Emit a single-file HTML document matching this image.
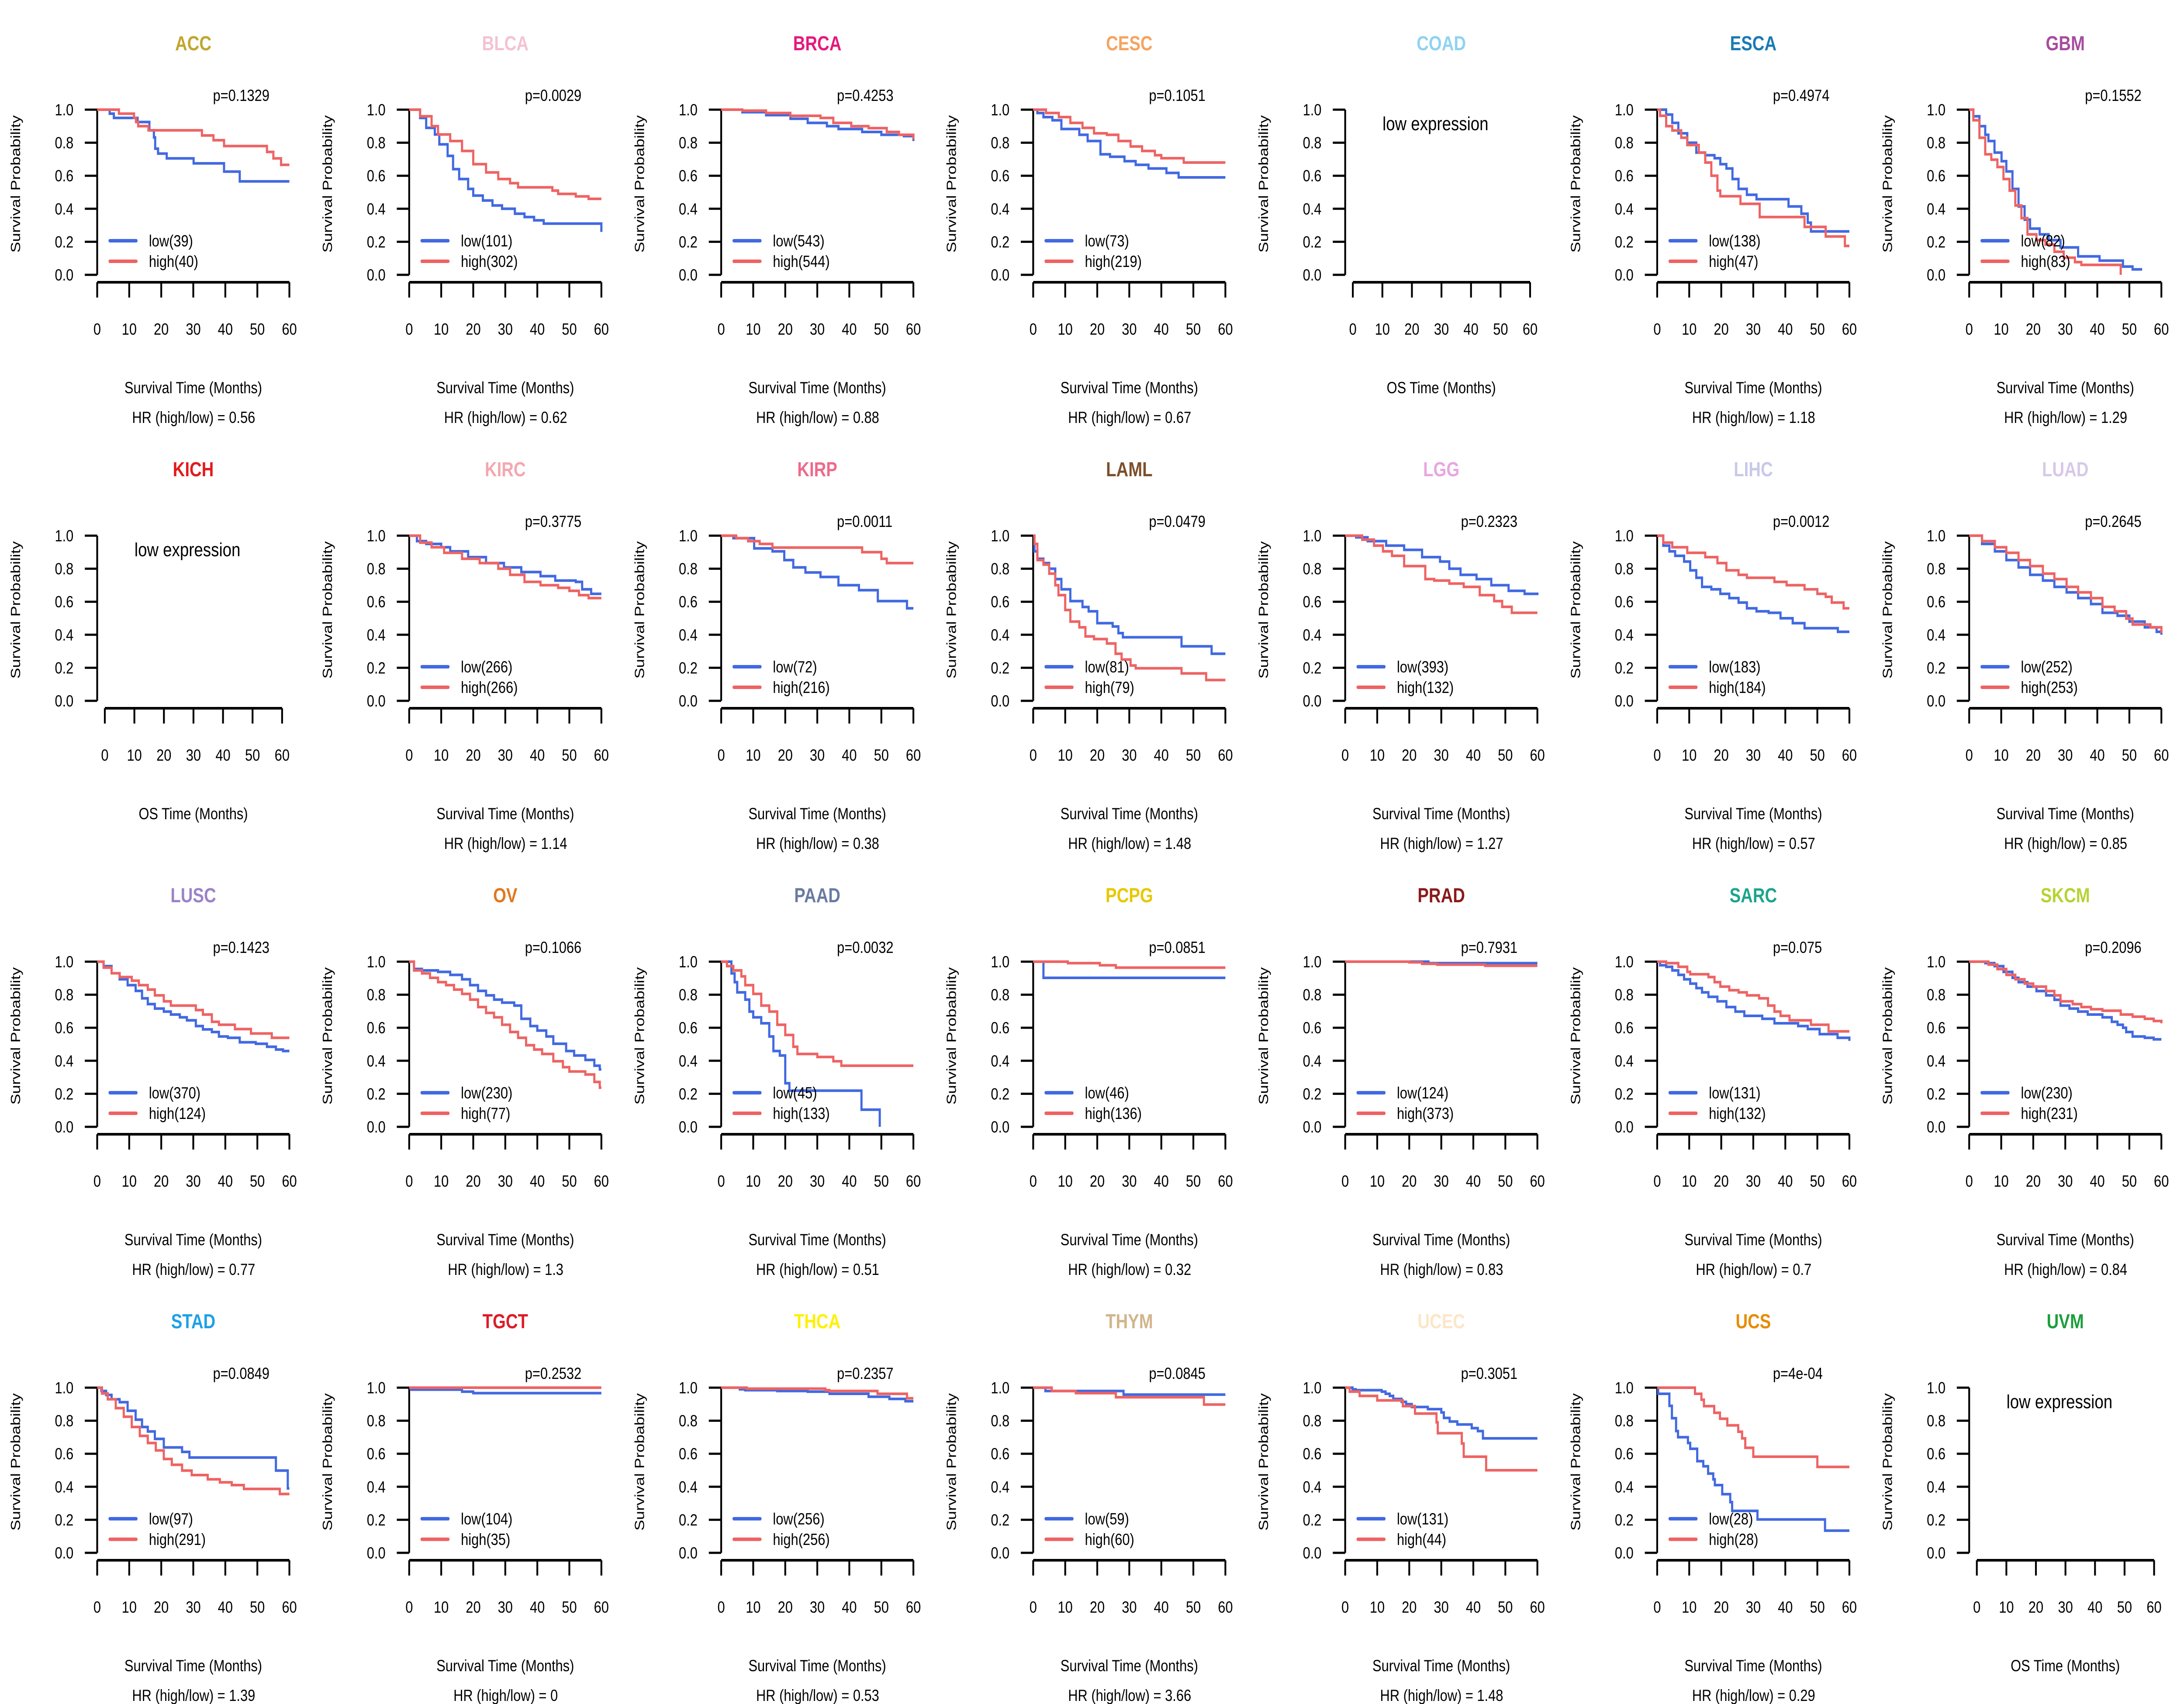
<!DOCTYPE html>
<html><head><meta charset="utf-8"><style>
html,body{margin:0;padding:0;background:#fff;overflow:hidden;width:100vw;height:100vh;}
svg{display:block;font-family:"Liberation Sans",Arial,sans-serif;width:100vw;height:100vh;}
</style></head><body>
<svg id="chart" xmlns="http://www.w3.org/2000/svg" viewBox="0 0 6000 3900" preserveAspectRatio="none"></svg>
<script>
const cancerNames=["ACC","BLCA","BRCA","CESC","COAD","ESCA","GBM","KICH","KIRC","KIRP","LAML","LGG","LIHC","LUAD","LUSC","OV","PAAD","PCPG","PRAD","SARC","SKCM","STAD","TGCT","THCA","THYM","UCEC","UCS","UVM"];
const titleColors=["#C0A62E","#F4C2D4","#E5197D","#F4A460","#8FD3F0","#1A7AB5","#A64D9E","#E31A1C","#F4A7B0","#EE6A8A","#7B4F2C","#E8A6E0","#C8C8E8","#D8C8E8","#9B82C8","#E0781E","#6A7BA2","#E8C800","#8B1A1A","#1CA58C","#B5D334","#1EA0E6","#DC1C28","#FFF000","#D2B48C","#FCE6C8","#E88C00","#1E9E3C"];
const pValues=["0.1329","0.0029","0.4253","0.1051",null,"0.4974","0.1552",null,"0.3775","0.0011","0.0479","0.2323","0.0012","0.2645","0.1423","0.1066","0.0032","0.0851","0.7931","0.075","0.2096","0.0849","0.2532","0.2357","0.0845","0.3051","4e-04",null];
const hrValues=["0.56","0.62","0.88","0.67",null,"1.18","1.29",null,"1.14","0.38","1.48","1.27","0.57","0.85","0.77","1.3","0.51","0.32","0.83","0.7","0.84","1.39","0","0.53","3.66","1.48","0.29",null];
const lowN=[39,101,543,73,null,138,82,null,266,72,81,393,183,252,370,230,45,46,124,131,230,97,104,256,59,131,28,null];
const highN=[40,302,544,219,null,47,83,null,266,216,79,132,184,253,124,77,133,136,373,132,231,291,35,256,60,44,28,null];
const xTicks=[0,10,20,30,40,50,60];
const yTicks=[0,0.2,0.4,0.6,0.8,1.0];
const lowCurves=[
[[3.9,0.976],[5.2,0.95],[12.6,0.925],[16.3,0.875],[17.7,0.832],[18.1,0.764],[19,0.734],[21.7,0.705],[30.1,0.675],[39.6,0.625],[44.5,0.566],[60,0.566]],
[[3.4,0.95],[5.3,0.89],[8,0.85],[9.4,0.79],[12,0.72],[13.7,0.64],[15.6,0.58],[18.4,0.52],[20,0.48],[23,0.45],[26,0.42],[29,0.40],[33,0.37],[36,0.35],[39,0.33],[42,0.31],[59.8,0.31],[60,0.26]],
[[6.6,0.985],[14,0.967],[21.6,0.945],[27,0.92],[33,0.90],[36.6,0.883],[44,0.865],[50,0.848],[57,0.84],[60,0.81]],
[[1.3,0.98],[3.2,0.955],[6,0.936],[8.8,0.883],[14.4,0.848],[17,0.81],[21,0.73],[24,0.715],[28.5,0.688],[32,0.666],[36,0.644],[41.6,0.617],[45.4,0.59],[60,0.59]],
null,
[[2.8,0.97],[4.7,0.92],[6.6,0.857],[9.4,0.80],[12.2,0.74],[15,0.724],[17.9,0.706],[19.7,0.67],[21.6,0.644],[23.5,0.58],[25.4,0.52],[28,0.485],[31,0.458],[41,0.414],[45,0.37],[47,0.316],[48,0.263],[60,0.263]],
[[1.3,0.96],[3.2,0.90],[5,0.848],[6,0.81],[7.9,0.74],[10.1,0.688],[11.6,0.626],[13.5,0.52],[15.4,0.414],[17.3,0.334],[19,0.28],[22,0.245],[24.8,0.21],[28.5,0.166],[34,0.112],[40.7,0.086],[48,0.05],[51,0.033],[54,0.033]],
null,
[[2.4,0.967],[5.3,0.95],[10,0.93],[12.8,0.905],[18.4,0.87],[24,0.834],[29.6,0.808],[35,0.78],[41,0.755],[45.6,0.728],[52,0.72],[54,0.675],[56.8,0.648],[60,0.648]],
[[3.8,0.985],[10.3,0.923],[16,0.905],[19.7,0.852],[22.5,0.808],[26.3,0.777],[31,0.75],[36.6,0.70],[43,0.67],[48.9,0.604],[58,0.56],[60,0.56]],
[[0.4,0.905],[1.3,0.86],[3.2,0.834],[5,0.80],[6.9,0.737],[8.8,0.675],[11.6,0.604],[15.4,0.568],[17.3,0.542],[20,0.47],[24.8,0.45],[26.6,0.41],[28,0.385],[46.3,0.33],[55.7,0.285],[60,0.285]],
[[3.4,0.99],[7,0.967],[12.8,0.94],[18.4,0.914],[24,0.87],[29.6,0.843],[32.5,0.80],[36,0.763],[41,0.737],[45.6,0.70],[51,0.666],[56,0.648],[60,0.64]],
[[1.9,0.94],[3.8,0.905],[5.6,0.878],[8.4,0.843],[10.3,0.79],[12.2,0.745],[14,0.69],[16.9,0.675],[19.7,0.648],[22.5,0.622],[25.4,0.595],[28,0.56],[31,0.542],[34.8,0.533],[38.5,0.50],[42.3,0.47],[46,0.44],[56.4,0.418],[60,0.418]],
[[4,0.95],[8,0.905],[11.6,0.852],[15.4,0.808],[19,0.763],[23,0.728],[26.6,0.69],[30.4,0.657],[34,0.622],[38,0.586],[41.6,0.533],[46.3,0.515],[50,0.48],[54.8,0.445],[58.5,0.418],[60,0.40]],
[[2,0.973],[4.5,0.93],[7,0.893],[9.5,0.858],[12,0.823],[14,0.778],[15.8,0.743],[18,0.716],[20.8,0.698],[23,0.68],[25.8,0.663],[28,0.645],[30.8,0.61],[33,0.59],[35.8,0.574],[38,0.547],[40.8,0.539],[44.5,0.512],[49.5,0.503],[53,0.485],[55.8,0.468],[58,0.459],[60,0.459]],
[[1.5,0.956],[4,0.947],[9,0.938],[12.8,0.92],[16.5,0.893],[19,0.858],[21.5,0.823],[24,0.796],[26.5,0.77],[29,0.752],[32.8,0.734],[35,0.654],[37.8,0.61],[40,0.583],[42.8,0.547],[45,0.503],[49,0.459],[51.5,0.432],[55,0.405],[57.8,0.37],[59.5,0.348],[60,0.348]],
[[3.2,0.929],[4.2,0.876],[5,0.814],[7.5,0.77],[8.8,0.698],[10,0.663],[12.5,0.627],[15,0.547],[16.3,0.459],[18.3,0.432],[20,0.264],[21.3,0.219],[43.8,0.104],[49.5,0.0]],
[[3.2,0.902],[60,0.902]],
[[26,0.991],[60,0.991]],
[[0.9,0.978],[2.8,0.969],[4.7,0.947],[6.6,0.92],[8.4,0.893],[10.3,0.867],[12.2,0.84],[14,0.814],[16,0.787],[18.8,0.76],[21.6,0.725],[24.4,0.698],[27.2,0.672],[32.8,0.654],[36.6,0.627],[44,0.61],[47,0.592],[50.7,0.561],[56.3,0.539],[60,0.52]],
[[5,0.991],[7.9,0.973],[10.7,0.938],[13.5,0.902],[15.4,0.876],[18.2,0.849],[21,0.822],[24,0.796],[26.6,0.769],[28.5,0.734],[31.3,0.716],[34,0.698],[37,0.68],[41.6,0.663],[44.5,0.636],[46.3,0.618],[48,0.60],[49,0.574],[51,0.547],[54.8,0.539],[57.6,0.53],[60,0.53]],
[[1.3,0.98],[2.8,0.956],[4.5,0.93],[7,0.912],[9.5,0.86],[12,0.806],[14,0.762],[15.8,0.735],[18,0.69],[20.8,0.638],[26.5,0.611],[28.8,0.577],[55.8,0.498],[59.5,0.39],[60,0.39]],
[[0.5,0.988],[16.5,0.976],[20,0.967],[60,0.967]],
[[5.8,0.99],[7.5,0.985],[17.5,0.98],[27,0.976],[33.8,0.963],[46,0.945],[52.5,0.932],[57.5,0.918],[60,0.918]],
[[3.8,0.98],[28.2,0.958],[60,0.958]],
[[2.3,0.99],[3.3,0.985],[11.4,0.976],[12.6,0.963],[13.9,0.95],[15,0.932],[17.6,0.914],[19,0.90],[20.8,0.883],[25.8,0.87],[30,0.85],[30.8,0.817],[32.6,0.795],[35,0.777],[39.5,0.755],[41.4,0.737],[43,0.693],[60,0.693]],
[[0.3,0.963],[3.8,0.89],[4.6,0.815],[5.9,0.737],[6.5,0.70],[9.6,0.665],[10.3,0.63],[12.5,0.555],[14.4,0.524],[15.9,0.48],[17.5,0.445],[18,0.41],[20.3,0.355],[22.8,0.307],[23.4,0.254],[31.3,0.202],[52.4,0.134],[60,0.134]],
null];
const highCurves=[
[[6.8,0.976],[11.5,0.95],[12.1,0.925],[12.8,0.90],[16,0.875],[32.7,0.844],[36.3,0.815],[39.6,0.78],[53,0.744],[55,0.705],[57.4,0.666],[60,0.666]],
[[3.4,0.96],[7,0.90],[9,0.85],[12.8,0.81],[16.5,0.75],[20,0.67],[24,0.62],[27.8,0.58],[31.5,0.555],[34,0.53],[44.7,0.51],[46.5,0.49],[52,0.475],[56,0.46],[60,0.46]],
[[6.6,0.994],[14,0.98],[21.6,0.963],[31,0.95],[35,0.92],[40.6,0.90],[46,0.888],[51.7,0.865],[55.5,0.848],[60,0.82]],
[[4,0.98],[8,0.955],[11.6,0.92],[15.4,0.89],[19,0.857],[23,0.848],[26.6,0.81],[30.4,0.777],[34,0.75],[38,0.724],[40,0.706],[47,0.68],[60,0.68]],
null,
[[0.9,0.963],[2.8,0.90],[4.7,0.874],[7.5,0.83],[9.4,0.786],[13,0.74],[15,0.68],[16.9,0.60],[18.8,0.51],[19.7,0.476],[26,0.43],[32,0.35],[46,0.29],[52.6,0.232],[58.6,0.175],[60,0.175]],
[[1.3,0.936],[3.2,0.83],[5,0.73],[6.9,0.697],[8.8,0.653],[10.7,0.58],[12.6,0.51],[14.4,0.42],[16.3,0.343],[18.2,0.245],[21,0.21],[23.8,0.183],[26.6,0.14],[29.5,0.104],[33,0.077],[35,0.06],[47.3,0.0]],
null,
[[3.4,0.958],[7,0.93],[10.9,0.896],[16.5,0.86],[22,0.834],[27.8,0.80],[31.5,0.763],[36,0.72],[41,0.70],[46.5,0.684],[50,0.666],[53,0.64],[56,0.622],[60,0.622]],
[[4.7,0.985],[8.4,0.967],[12,0.95],[16,0.928],[44,0.90],[50,0.86],[51.7,0.834],[60,0.834]],
[[0.4,0.95],[1.3,0.852],[3.2,0.825],[5,0.77],[6.9,0.70],[7.9,0.64],[10,0.55],[11.6,0.48],[14.4,0.445],[16.3,0.39],[19,0.374],[23,0.347],[25.7,0.285],[27.6,0.25],[30.4,0.214],[32,0.197],[46.3,0.166],[54,0.126],[60,0.126]],
[[5.3,0.976],[9,0.94],[11.8,0.905],[14.6,0.878],[18.4,0.816],[25,0.737],[27.8,0.728],[32.5,0.71],[37,0.69],[42,0.64],[46.5,0.604],[49,0.569],[52,0.533],[60,0.533]],
[[1.9,0.958],[4.7,0.93],[9.4,0.896],[15,0.87],[18.8,0.834],[21.6,0.79],[25.4,0.763],[28,0.745],[36.6,0.72],[40.4,0.70],[46,0.675],[50,0.648],[52.6,0.63],[54.5,0.595],[58.2,0.56],[60,0.56]],
[[4,0.967],[8,0.93],[11.6,0.896],[15.4,0.852],[19,0.816],[23,0.77],[26.6,0.737],[30.4,0.69],[34,0.657],[38,0.622],[41.6,0.569],[45.4,0.542],[49,0.498],[51,0.462],[56.6,0.445],[60,0.41]],
[[2,0.964],[4.5,0.93],[7,0.907],[10.8,0.885],[13,0.858],[15.8,0.831],[18,0.796],[20.8,0.76],[23,0.734],[30.8,0.707],[33,0.68],[35.8,0.636],[38,0.618],[43,0.592],[48,0.565],[54.5,0.539],[60,0.539]],
[[1.5,0.947],[4,0.929],[6.5,0.902],[9,0.876],[11.5,0.858],[14,0.831],[16.5,0.805],[19,0.77],[21.5,0.725],[24,0.69],[26.5,0.663],[29,0.618],[31.5,0.574],[34,0.539],[36.5,0.494],[39,0.468],[41.5,0.441],[45,0.397],[48,0.361],[50,0.335],[55,0.317],[57.8,0.272],[59.5,0.237],[60,0.237]],
[[1.8,0.973],[3.8,0.947],[6.3,0.911],[7.5,0.858],[10,0.805],[12.5,0.734],[15,0.698],[17.5,0.618],[20,0.556],[22.5,0.485],[23.8,0.441],[30,0.423],[35,0.397],[37.5,0.37],[60,0.37]],
[[10.8,0.991],[20.8,0.978],[25.8,0.964],[60,0.964]],
[[20,0.996],[24,0.987],[28.7,0.982],[43.7,0.975],[60,0.975]],
[[2.8,0.991],[6.6,0.969],[9.4,0.938],[10.3,0.924],[16,0.907],[17.9,0.876],[19.7,0.849],[22.5,0.827],[25.4,0.814],[28,0.796],[31.8,0.778],[34.6,0.734],[36.6,0.698],[38.5,0.672],[41.3,0.645],[48,0.618],[53.5,0.578],[60,0.578]],
[[6,0.982],[8.8,0.955],[11.6,0.92],[14.4,0.893],[17.3,0.867],[20,0.849],[24,0.822],[26.6,0.796],[28.5,0.76],[32.3,0.743],[35,0.725],[38,0.712],[41.6,0.703],[47.3,0.68],[51,0.667],[54.8,0.654],[57.6,0.641],[60,0.627]],
[[1.5,0.965],[3.3,0.93],[5.8,0.876],[8.3,0.824],[10.8,0.762],[13.3,0.708],[15.8,0.665],[18.3,0.62],[20.8,0.568],[23.3,0.533],[26.5,0.498],[29.5,0.471],[34.5,0.445],[38.3,0.427],[42,0.41],[45.8,0.387],[57,0.356],[60,0.356]],
[[60,1.0]],
[[8,0.994],[32.5,0.985],[33.8,0.98],[48.8,0.963],[58,0.936],[60,0.936]],
[[5.8,0.98],[13.3,0.967],[25.8,0.942],[53.3,0.898],[60,0.898]],
[[1.4,0.976],[4.5,0.95],[10,0.923],[18,0.888],[21.8,0.843],[28.5,0.79],[28.9,0.724],[36.4,0.662],[37,0.582],[44,0.50],[60,0.50]],
[[11.8,0.963],[13.8,0.927],[14.6,0.888],[17.8,0.848],[19.6,0.812],[21.9,0.772],[25.3,0.733],[26.5,0.693],[27.5,0.636],[30,0.582],[50,0.52],[60,0.52]],
null];

const NS="http://www.w3.org/2000/svg";
const svg=document.getElementById('chart');
function mk(tag,attrs,parent,text){const e=document.createElementNS(NS,tag);for(const k in attrs)e.setAttribute(k,attrs[k]);if(text!==undefined)e.textContent=text;parent.appendChild(e);return e;}
const COLW=6000/7, ROWH=975;
const BLUE="#4169E1", RED="#EE6363";
cancerNames.forEach((name,i)=>{
  const c=i%7, r=Math.floor(i/7);
  const cx=c*COLW, ry=r*ROWH;
  const empty=lowCurves[i]===null;
  const g=mk('g',{},svg);
  
  
  const yAxisX=cx+267;
  const x0=empty?cx+288:cx+267, x1=empty?cx+775:cx+795;
  const xs=t=>x0+(x1-x0)*t/60;
  const ys=v=>ry+629-378*v;
  const tt=mk('text',{x:cx+531,y:ry+115,'text-anchor':'middle','font-size':46,'font-weight':'bold',fill:titleColors[i]},g,name);
  
  
  const ya=mk('g',{},g);
  
  
  mk('line',{x1:yAxisX,y1:ys(1),x2:yAxisX,y2:ys(0),stroke:'#000','stroke-width':5},ya);
  yTicks.forEach(v=>{
    mk('line',{x1:yAxisX-34,y1:ys(v),x2:yAxisX,y2:ys(v),stroke:'#000','stroke-width':5},ya);
    const tl=mk('text',{x:cx+202,y:ys(v)+13,'text-anchor':'end','font-size':37},ya,v.toFixed(1));
    
    
  });
  const yl=mk('text',{x:0,y:0,'text-anchor':'middle','font-size':37,transform:`translate(${cx+55},${ry+421}) rotate(-90)`},g,'Survival Probability');
  
  
  const xa=mk('g',{},g);
  
  
  mk('line',{x1:x0,y1:ry+646,x2:x1,y2:ry+646,stroke:'#000','stroke-width':6},xa);
  xTicks.forEach(t=>{
    mk('line',{x1:xs(t),y1:ry+646,x2:xs(t),y2:ry+681,stroke:'#000','stroke-width':5},xa);
    const tl=mk('text',{x:xs(t),y:ry+766,'text-anchor':'middle','font-size':37},xa,String(t));
    
    
  });
  const xl=mk('text',{x:cx+531,y:ry+900,'text-anchor':'middle','font-size':37},g,empty?'OS Time (Months)':'Survival Time (Months)');
  
  
  if(empty){
    const le=mk('text',{x:cx+515,y:ry+298,'text-anchor':'middle','font-size':44},g,'low expression');
    
    
    return;
  }
  const pv=mk('text',{x:cx+585,y:ry+231,'font-size':37},g,'p='+pValues[i]);
  
  
  const hr=mk('text',{x:cx+532,y:ry+968,'text-anchor':'middle','font-size':37,'xml:space':'preserve'},g,'HR (high/low) =  '+hrValues[i]);
  
  
  function stepPath(pts){
    let d=`M${xs(0)},${ys(1)}`;
    pts.forEach(p=>{d+=` H${xs(p[0]).toFixed(1)} V${ys(p[1]).toFixed(1)}`;});
    return d;
  }
  const lp=mk('path',{d:stepPath(lowCurves[i]),fill:'none',stroke:BLUE,'stroke-width':6},g);
  
  
  const hp=mk('path',{d:stepPath(highCurves[i]),fill:'none',stroke:RED,'stroke-width':6},g);
  
  
  const lg=mk('g',{},g);
  
  
  [[BLUE,'low('+lowN[i]+')',551],[RED,'high('+highN[i]+')',598]].forEach(e=>{
    mk('line',{x1:cx+302,y1:ry+e[2],x2:cx+374,y2:ry+e[2],stroke:e[0],'stroke-width':8,'stroke-linecap':'round'},lg);
    const lt=mk('text',{x:cx+409,y:ry+e[2]+13,'font-size':37},lg,e[1]);
    
    
  });
});
</script>
</body></html>
